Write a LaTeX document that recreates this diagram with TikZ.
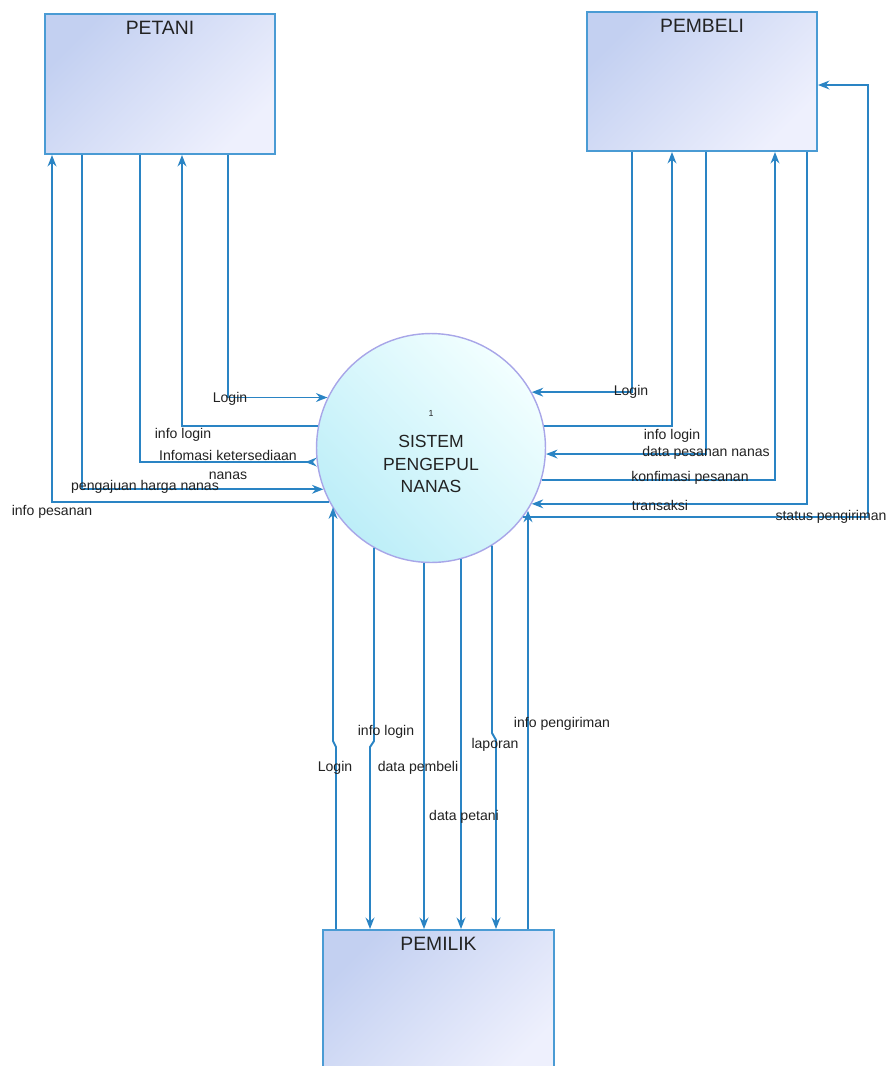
\documentclass[tikz,border=0pt]{standalone}
\usepackage{fontspec}
\setmainfont{Liberation Sans}
\usetikzlibrary{arrows.meta}

\definecolor{flow}{HTML}{2A84C4}
\definecolor{edge}{HTML}{4A9BD4}
\definecolor{boxA}{HTML}{C3D0F1}
\definecolor{boxB}{HTML}{EEF0FD}
\definecolor{procA}{HTML}{BDEEF8}
\definecolor{procB}{HTML}{F2FFFF}
\definecolor{procEdge}{HTML}{A8A6E8}
\definecolor{ink}{HTML}{222222}

\begin{document}
\begin{tikzpicture}[x=0.02cm,y=-0.02cm,
  entity/.style={draw=edge, line width=1.1pt, rectangle, inner sep=0pt,
    minimum width=4.6cm, minimum height=2.8cm,
    top color=boxA, bottom color=boxB, shading angle=45},
  title/.style={anchor=north, inner sep=2pt, yshift=-2.3pt, text=ink,
    font=\fontsize{11}{13}\selectfont},
  proc/.style={circle, draw=procEdge, line width=0.8pt, minimum size=4.58cm,
    inner sep=0pt, top color=procB, bottom color=procA, shading angle=-45},
  flowline/.style={draw=flow, line width=1.1pt},
  tip/.style={flowline, -{Stealth[length=6.5pt,width=5pt]}},
  backtip/.style={flowline, {Stealth[length=6.5pt,width=5pt,reversed]}-},
  lbl/.style={inner sep=0pt, text=ink, font=\fontsize{8}{10.5}\selectfont}
]
\useasboundingbox (0,0) rectangle (888,1066);
\clip (0,0) rectangle (888,1066);

% external entities
\node[entity, label={[title]north:PETANI}] (petani) at (160,84) {};
\node[entity, minimum height=2.78cm, label={[title]north:PEMBELI}] (pembeli) at (702,81.5) {};
\node[entity, minimum width=4.62cm, minimum height=3cm, label={[title]north:PEMILIK}] (pemilik) at (438.5,1005) {};

% process
\node[proc] (p) at (431,448) {};
\node[text=ink, font=\fontsize{5}{6}\selectfont, inner sep=0pt] (pnum) at (431,413) {1};
\node[text=ink, align=center, inner sep=0pt, font=\fontsize{10}{13}\selectfont] (pname) at (431,464) {SISTEM\\PENGEPUL\\NANAS};

% flows between PETANI and the process
\draw[tip] (petani.south -| 228,0) |- (p.154.7);
\draw[tip] (p.169.4) -| (petani.south -| 182,0);
\draw[backtip] (p.187.5) -| (petani.south -| 140,0);
\draw[tip] (petani.south -| 82,0) |- (p.201.5);
\draw[tip] (p.208.1) -| (petani.south -| 52,0);

% flows between PEMBELI and the process
\draw[tip] (pembeli.south -| 632,0) |- (p.29.3);
\draw[tip] (p.11.6) -| (pembeli.south -| 672,0);
\draw[tip] (pembeli.south -| 706,0) |- (p.357.5);
\draw[tip] (p.344.8) -| (pembeli.south -| 775,0);
\draw[tip] (pembeli.south -| 807,0) |- (p.331.3);
\coordinate (sbend) at (868,85);
\draw[tip] (p.323.6) -| (sbend) -- (pembeli.east |- sbend);

% flows between PEMILIK and the process
\draw[tip] (pemilik.north -| 336,0) -- (336,747) -- (333,741) -- (333,741 |- p.211.1);
\draw[tip] (374,741 |- p.240.1) -- (374,741) -- (370,747) -- (pemilik.north -| 370,0);
\draw[tip] (424,0 |- p.266.5) -- (pemilik.north -| 424,0);
\draw[tip] (461,0 |- p.285.2) -- (pemilik.north -| 461,0);
\draw[tip] (492,733 |- p.302.2) -- (492,733) -- (496,740) -- (pemilik.north -| 496,0);
\draw[tip] (pemilik.north -| 528,0) -- (528,0 |- p.327.9);

% flow labels, left
\node[lbl] (l1) at (230,399) {Login};
\node[lbl] (l2) at (183,435) {info login};
\node[lbl, align=center] (l3) at (228,465) {Infomasi ketersediaan\\nanas};
\node[lbl] (l4) at (145,487) {pengajuan harga nanas};
\node[lbl] (l5) at (52,512) {info pesanan};

% flow labels, right
\node[lbl] (r1) at (631,392) {Login};
\node[lbl] (r2) at (672,436) {info login};
\node[lbl] (r3) at (706,453) {data pesanan nanas};
\node[lbl] (r4) at (690,478) {konfimasi pesanan};
\node[lbl] (r5) at (660,505) {transaksi};
\node[lbl] (r6) at (831,517) {status pengiriman};

% flow labels, bottom
\node[lbl] (b1) at (335,768) {Login};
\node[lbl] (b2) at (386,732) {info login};
\node[lbl] (b3) at (418,768) {data pembeli};
\node[lbl] (b4) at (464,817) {data petani};
\node[lbl] (b5) at (495,745) {laporan};
\node[lbl] (b6) at (562,724) {info pengiriman};
\end{tikzpicture}
\end{document}
